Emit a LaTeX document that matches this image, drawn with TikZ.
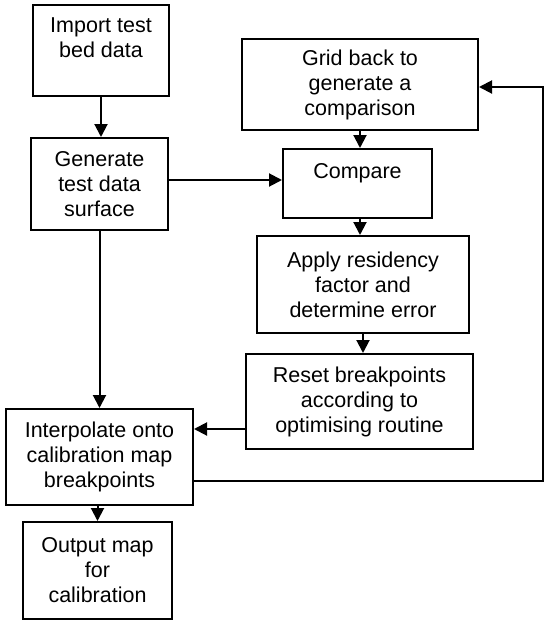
\documentclass[tikz,border=0pt]{standalone}
\usepackage{fontspec}
\setmainfont{Liberation Sans}
\usetikzlibrary{arrows.meta}
\tikzset{
  box/.style={draw, line width=2pt, inner sep=0pt, align=center,
    font=\fontsize{21.5}{25}\selectfont},
  arr/.style={line width=2pt, -{Triangle[length=13pt,width=13pt]}}
}
\begin{document}
\begin{tikzpicture}[x=1pt,y=1pt]
\useasboundingbox (0,0) rectangle (550,-624);
\node[box, minimum width=136pt, minimum height=91pt] (imp) at (101,-50.5) {Import test\\bed data\\\mbox{}};
\node[box, minimum width=137pt, minimum height=92pt] (gen) at (99.5,-184) {Generate\\test data\\surface};
\node[box, minimum width=236pt, minimum height=91pt] (grid) at (360,-84.5) {Grid back to\\generate a\\comparison};
\node[box, minimum width=149pt, minimum height=69pt] (cmp) at (357.5,-183.5) {Compare\\\mbox{}};
\node[box, minimum width=212pt, minimum height=97pt] (app) at (363,-284.5) {Apply residency\\factor and\\determine error};
\node[box, minimum width=227pt, minimum height=95pt] (rst) at (359.5,-401.5) {Reset breakpoints\\according to\\optimising routine};
\node[box, minimum width=187pt, minimum height=96pt] (int) at (99.5,-457) {Interpolate onto\\calibration map\\breakpoints};
\node[box, minimum width=149pt, minimum height=97pt] (out) at (97.5,-570.5) {Output map\\for\\calibration};
\coordinate (fb) at (543,-87);
\draw[arr] (imp.south) -- (imp.south |- gen.north);
\draw[arr] (gen.east |- 0,-180) -- (cmp.west |- 0,-180);
\draw[arr] (grid.south) -- (grid.south |- cmp.north);
\draw[arr] (grid.south |- cmp.south) -- (grid.south |- app.north);
\draw[arr] (app.south) -- (app.south |- rst.north);
\draw[arr] (rst.west |- 0,-429) -- (int.east |- 0,-429);
\draw[arr] (gen.south) -- (gen.south |- int.north);
\draw[arr] (int.east |- 0,-481) -| (fb) -- (grid.east |- fb);
\draw[arr] (int.south -| out.north) -- (out.north);
\end{tikzpicture}
\end{document}
